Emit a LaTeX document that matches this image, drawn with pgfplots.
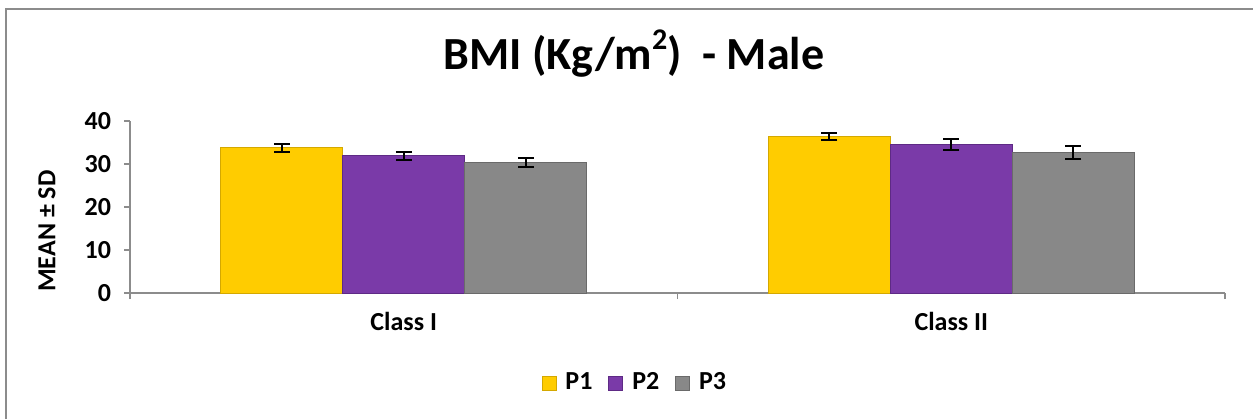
\documentclass[border=0pt]{standalone}
\usepackage{pgfplots}
\pgfplotsset{compat=1.18}
\usepackage{pgfplotstable}
\usepackage{fontspec}
\setmainfont{Carlito}
\definecolor{cP1}{HTML}{FFCC00}
\definecolor{cP1d}{HTML}{D4A800}
\definecolor{cP2}{HTML}{7A3AA8}
\definecolor{cP2d}{HTML}{5E2A85}
\definecolor{cP3}{HTML}{888888}
\definecolor{cP3d}{HTML}{6A6A6A}
\definecolor{axgray}{HTML}{8C8C8C}
\pgfplotstableread{
x y e
0 33.8 0.9
1 36.4 0.7
}\tP
\pgfplotstableread{
x y e
0 31.9 0.9
1 34.5 1.3
}\tQ
\pgfplotstableread{
x y e
0 30.4 1.1
1 32.6 1.55
}\tR
\begin{document}
\begin{tikzpicture}
\useasboundingbox (0pt,0pt) rectangle (626.5pt,-209.5pt);
\draw[axgray, line width=1.2pt] (3pt,-209.5pt) -- (3pt,-4.5pt) -- (626.5pt,-4.5pt);
\node[anchor=base, font=\bfseries\fontsize{23}{27}\selectfont] at (317pt,-34.5pt) {BMI (Kg/m\raisebox{0.42em}{\fontsize{15}{17}\selectfont 2})\ \ - Male};
\begin{axis}[
  at={(65pt,-146.5pt)}, anchor=south west,
  scale only axis, width=547.5pt, height=86pt,
  xmin=-0.5, xmax=1.5, ymin=0, ymax=40,
  axis lines*=left,
  axis line style={draw=axgray, line width=0.8pt, -},
  tick align=outside,
  /pgf/number format/assume math mode=true,
  ytick={0,10,20,30,40},
  ytick style={draw=axgray, line width=0.8pt},
  major tick length=3pt,
  yticklabel style={font=\bfseries\fontsize{13}{15}\selectfont, xshift=-3pt},
  xtick={-0.5,0.5,1.5},
  xticklabels={},
  xtick style={draw=axgray, line width=0.8pt},
  extra x ticks={0,1},
  extra x tick labels={Class I, Class II},
  extra x tick style={major tick length=0pt, grid=none,
     xticklabel style={font=\bfseries\fontsize{13}{15}\selectfont, yshift=-6pt}},
  ylabel={MEAN ± SD},
  ylabel style={font=\bfseries\fontsize{13}{15}\selectfont, at={(axis description cs:-0.0758,0.36)}, anchor=center},
  ybar, bar width=61pt,
  legend columns=3,
  legend style={draw=none, at={(axis description cs:0.462,-0.523)}, anchor=center,
     font=\bfseries\fontsize{13}{15}\selectfont,
     /tikz/every odd column/.append style={column sep=2.5pt},
     /tikz/every even column/.append style={column sep=6pt}},
  legend image code/.code={\fill[#1] (0pt,-3.5pt) rectangle (7pt,3.5pt);},
  error bars/y dir=both, error bars/y explicit,
  error bars/error bar style={black, line width=1pt},
  error bars/error mark options={black, line width=1pt, mark size=4pt, rotate=90},
]
\addplot[fill=cP1, draw=cP1d, bar shift=-61pt] table[x=x, y=y, y error=e] {\tP};
\addplot[fill=cP2, draw=cP2d, bar shift=0pt] table[x=x, y=y, y error=e] {\tQ};
\addplot[fill=cP3, draw=cP3d, bar shift=61pt] table[x=x, y=y, y error=e] {\tR};
\legend{P1, P2, P3}
\end{axis}
\end{tikzpicture}
\end{document}
